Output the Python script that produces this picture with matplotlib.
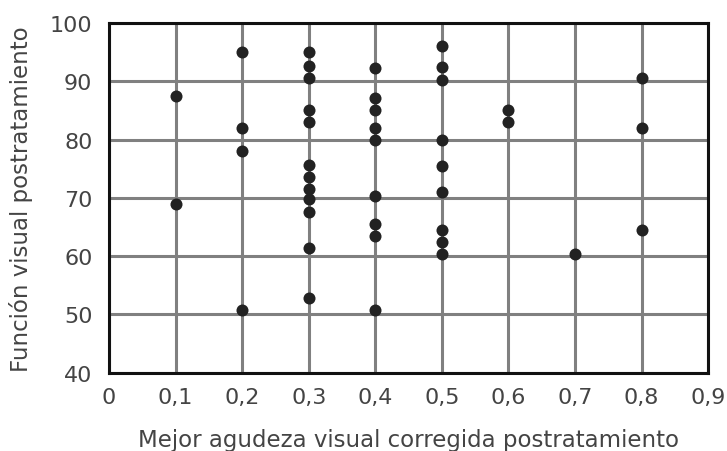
import numpy as np
import matplotlib.pyplot as plt

# Mejor agudeza visual corregida (x) vs función visual (y)
agudeza = [0.1, 0.1,
           0.2, 0.2, 0.2, 0.2,
           0.3, 0.3, 0.3, 0.3, 0.3, 0.3, 0.3, 0.3, 0.3, 0.3, 0.3, 0.3,
           0.4, 0.4, 0.4, 0.4, 0.4, 0.4, 0.4, 0.4, 0.4,
           0.5, 0.5, 0.5, 0.5, 0.5, 0.5, 0.5, 0.5, 0.5,
           0.6, 0.6,
           0.7,
           0.8, 0.8, 0.8]
funcion = [87.5, 69.0,
           95.0, 82.0, 78.0, 50.7,
           95.0, 92.6, 90.5, 85.1, 83.0, 75.6, 73.5, 71.5, 69.8, 67.6, 61.4, 52.8,
           92.3, 87.2, 85.1, 82.0, 80.0, 70.3, 65.5, 63.4, 50.7,
           96.0, 92.5, 90.2, 80.0, 75.5, 71.0, 64.5, 62.5, 60.3,
           85.1, 83.0,
           60.3,
           90.5, 82.0, 64.5]

x_ticks = [0, 0.1, 0.2, 0.3, 0.4, 0.5, 0.6, 0.7, 0.8, 0.9]
x_labels = ['0', '0,1', '0,2', '0,3', '0,4', '0,5', '0,6', '0,7', '0,8', '0,9']
y_ticks = [40, 50, 60, 70, 80, 90, 100]

fig = plt.figure(figsize=(7.27, 4.52), dpi=100)
ax = fig.add_axes([0.150, 0.173, 0.824, 0.774])

ax.scatter(agudeza, funcion, s=75, color='#222222', zorder=3, linewidths=0)

ax.set_xlim(0, 0.9)
ax.set_ylim(40, 100)
ax.set_xticks(x_ticks)
ax.set_xticklabels(x_labels)
ax.set_yticks(y_ticks)

ax.grid(True, color='#808080', linewidth=2.2)
ax.set_axisbelow(True)
for sp in ax.spines.values():
    sp.set_linewidth(2.2)
    sp.set_color('#111111')
ax.tick_params(length=0, labelsize=16, colors='#444444')
ax.tick_params(axis='y', pad=12)
ax.tick_params(axis='x', pad=10)

ax.set_xlabel('Mejor agudeza visual corregida postratamiento', fontsize=16.5,
              color='#444444', va='center')
ax.set_ylabel('Función visual postratamiento', fontsize=16.5, color='#444444',
              va='center')
ax.xaxis.set_label_coords(0.5, -0.19)
ax.yaxis.set_label_coords(-0.147, 0.5)

fig.savefig('out.png', dpi=100)
